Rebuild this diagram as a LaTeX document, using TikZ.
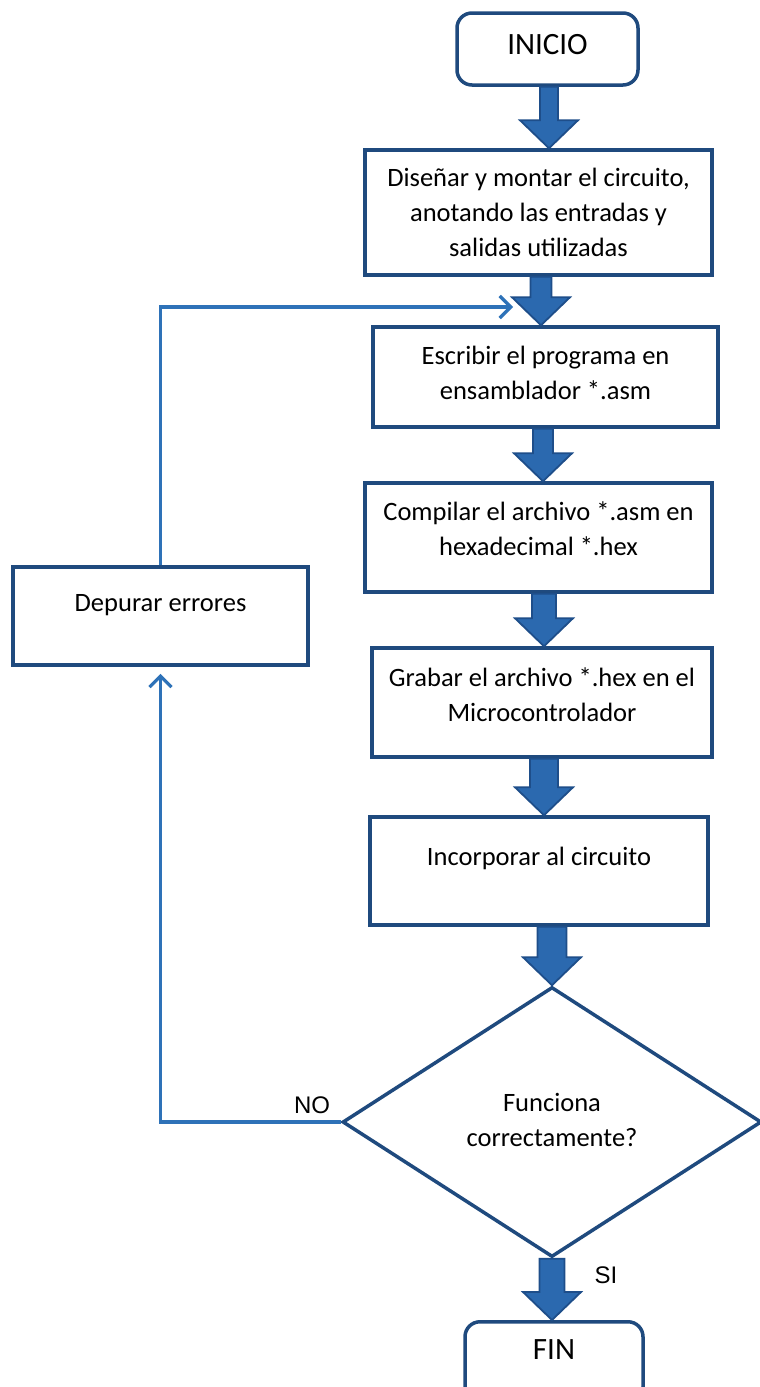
\documentclass[tikz,border=0pt]{standalone}
\usepackage{fontspec}
\setmainfont{Carlito}
\newfontfamily\labelfont{Liberation Sans}
\usetikzlibrary{shapes.geometric,arrows.meta,calc}
\definecolor{navy}{HTML}{1F4A7E}
\definecolor{afill}{HTML}{2B69AF}
\definecolor{aedge}{HTML}{1E4E8A}
\definecolor{fbc}{HTML}{2E72B8}
\tikzset{
  procbox/.style={draw=navy, line width=3.5pt, rectangle, inner sep=0pt},
  termbox/.style={draw=navy, line width=3.5pt, rectangle, rounded corners=15pt, inner sep=0pt,
    font=\fontsize{31}{37}\selectfont},
  bodytext/.style={font=\fontsize{26.5}{35}\selectfont, align=center, inner sep=0pt},
  blockarr/.style={fill=afill, draw=aedge, line width=1.8pt, line join=miter},
  fbline/.style={draw=fbc, line width=3.2pt, -{Straight Barb[length=11pt,width=22pt]}},
  yn/.style={font=\labelfont\fontsize{24}{28}\selectfont, inner sep=0pt},
}
% #1 shaft half width, #2 x centre, #3 start, #4 end (tip)
\newcommand{\fatarrow}[4][12]{%
  \path[blockarr] let \p1=(#3), \p2=(#4) in
    (#2pt-#1pt,\y1) -- (#2pt+#1pt,\y1) -- (#2pt+#1pt,\y2+28pt) -- (#2pt+29pt,\y2+28pt)
    -- (#2pt,\y2) -- (#2pt-29pt,\y2+28pt) -- (#2pt-#1pt,\y2+28pt) -- cycle;}
\begin{document}
\begin{tikzpicture}[x=1pt,y=-1pt]
\fill[white] (0,0) rectangle (760,1387);
\useasboundingbox (0,0) rectangle (760,1387);

\node[termbox, minimum width=181, minimum height=72,
  label={[font=\fontsize{31}{37}\selectfont, yshift=4pt]center:INICIO}] (inicio) at (547.5,49) {};
\node[procbox, minimum width=347, minimum height=125,
  label={[bodytext]center:{Diseñar y montar el circuito,\\anotando las entradas y\\salidas utilizadas}}] (b2) at (538.5,212.5) {};
\node[procbox, minimum width=345, minimum height=100,
  label={[bodytext, yshift=4.5pt]center:{Escribir el programa en\\ensamblador *.asm}}] (b3) at (545.5,377) {};
\node[procbox, minimum width=347, minimum height=109,
  label={[bodytext, yshift=8.5pt]center:{Compilar el archivo *.asm en\\hexadecimal *.hex}}] (b4) at (538.5,537.5) {};
\node[procbox, minimum width=340, minimum height=109,
  label={[bodytext, yshift=8pt]center:{Grabar el archivo *.hex en el\\Microcontrolador}}] (b5) at (542,702.5) {};
\node[procbox, minimum width=338, minimum height=108,
  label={[bodytext, yshift=13pt]center:{Incorporar al circuito}}] (b6) at (539,871) {};
\node[procbox, minimum width=295, minimum height=98,
  label={[bodytext, yshift=11pt]center:{Depurar errores}}] (dep) at (160.5,616) {};
\node[draw=navy, line width=3.5pt, diamond, minimum width=419, minimum height=270, inner sep=0pt,
  label={[bodytext, yshift=2pt]center:{Funciona\\correctamente?}}] (dia) at (552,1122) {};
\node[termbox, minimum width=178, minimum height=80, anchor=north,
  label={[font=\fontsize{31}{37}\selectfont, yshift=12pt]center:FIN}] (fin) at (554,1320) {};

\fatarrow[9]{549}{inicio.south}{b2.north}
\fatarrow[10.5]{541}{b2.south}{b3.north}
\fatarrow[10]{543}{b3.south}{b4.north}
\fatarrow[12]{544}{b4.south}{b5.north}
\fatarrow[14]{544}{b5.south}{b6.north}
\fatarrow[14.5]{552}{b6.south}{dia.north}
\fatarrow[12.5]{552}{dia.south}{fin.north}

\coordinate (fbend) at (513,307);
\coordinate (depin) at ($(dep.south)+(0,7)$);
\draw[fbline] (dep.north) |- (fbend);
\draw[fbline] (dia.west) -| (depin);

\node[yn] (no) at (312,1105) {NO};
\node[yn] (si) at (606,1275) {SI};
\end{tikzpicture}
\end{document}
